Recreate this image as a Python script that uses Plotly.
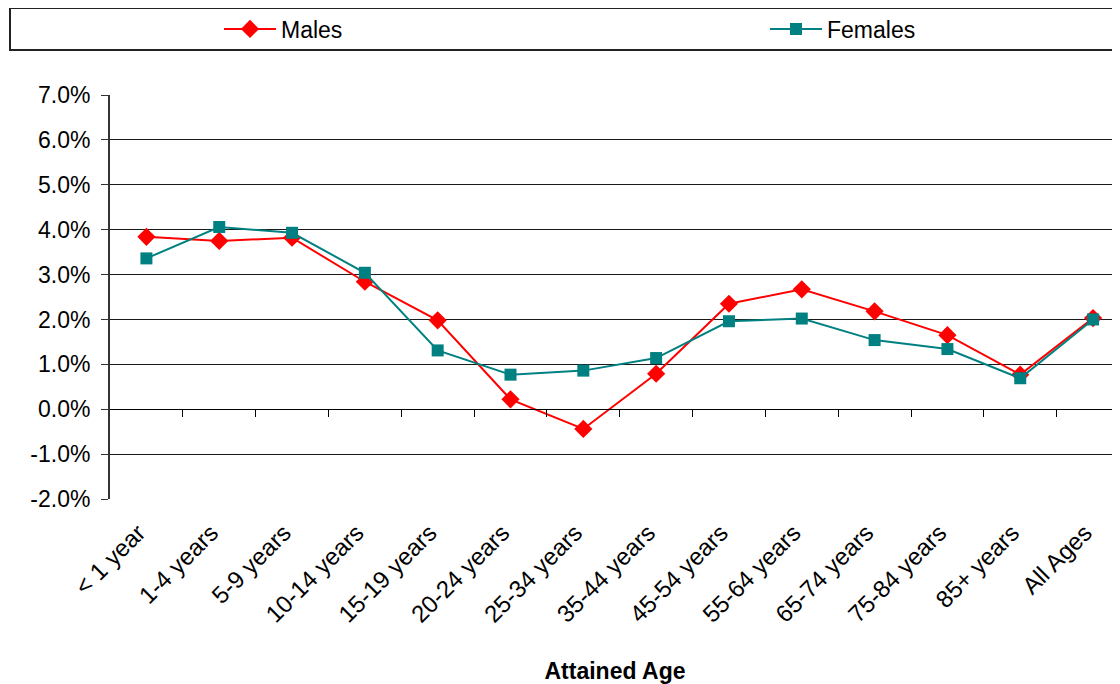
import plotly.graph_objects as go

categories = ["< 1 year", "1-4 years", "5-9 years", "10-14 years", "15-19 years",
              "20-24 years", "25-34 years", "35-44 years", "45-54 years", "55-64 years",
              "65-74 years", "75-84 years", "85+ years", "All Ages"]
males = [3.84, 3.75, 3.82, 2.84, 1.98, 0.22, -0.44, 0.79, 2.35, 2.67, 2.18, 1.65, 0.77, 2.03]
females = [3.36, 4.06, 3.93, 3.04, 1.31, 0.77, 0.86, 1.14, 1.96, 2.02, 1.54, 1.34, 0.69, 2.00]
y_ticks = [-2, -1, 0, 1, 2, 3, 4, 5, 6, 7]
y_ticktext = [f"{v:.1f}%" for v in y_ticks]

FONT = "Liberation Sans, Arial, sans-serif"
OFF = 8  # page body margin
W, H = 1120 - OFF, 684 - OFF
L, R, T, B = 110 - OFF, 0, 95 - OFF, H - (499 - OFF)
pw, ph = W - L - R, H - T - B
xr = [-0.5, 13.37]

def px_x(p):
    return (p - OFF - L) / pw

def px_y(p):
    return 1 + (T - (p - OFF)) / ph

fig = go.Figure()
fig.add_trace(go.Scatter(x=categories, y=males, name="Males", mode="lines+markers",
                         line=dict(color="#FF0000", width=2), legend="legend",
                         marker=dict(symbol="diamond", size=14, color="#FF0000")))
fig.add_trace(go.Scatter(x=categories, y=females, name="Females", mode="lines+markers",
                         line=dict(color="#008080", width=2), legend="legend2",
                         marker=dict(symbol="square", size=12, color="#008080")))
# helper trace so the zero-line category axis is rendered
fig.add_trace(go.Scatter(x=[None], y=[None], xaxis="x2", yaxis="y", showlegend=False,
                         hoverinfo="skip"))

leg_common = dict(orientation="h", yanchor="middle", y=px_y(29), xanchor="left",
                  font=dict(size=23), bgcolor="rgba(0,0,0,0)", itemwidth=52)

fig.update_layout(
    width=W, height=H,
    margin=dict(l=L, r=R, t=T, b=B, autoexpand=False),
    paper_bgcolor="white", plot_bgcolor="white",
    font=dict(family=FONT, size=21, color="black"),
    xaxis=dict(type="category", range=xr, showgrid=False, showline=False, ticks="",
               tickangle=-45, tickfont=dict(size=24), automargin=False,
               ticklabelstandoff=14, ticklabelshift=-8,
               title=dict(text="<b>Attained Age</b>", font=dict(size=23), standoff=50)),
    xaxis2=dict(overlaying="x", anchor="free", position=2 / 9, range=xr,
                showgrid=False, zeroline=False, showline=True, linecolor="black", linewidth=1,
                ticks="outside", ticklen=7, tickcolor="black",
                tickvals=[i + 0.5 for i in range(13)], showticklabels=False),
    yaxis=dict(range=[-2, 7], tickvals=y_ticks, ticktext=y_ticktext, automargin=False,
               showgrid=True, gridcolor="#1a1a1a", gridwidth=1, zeroline=False,
               showline=True, linecolor="#333333", linewidth=2, ticklabelstandoff=6,
               ticks="outside", ticklen=7, tickcolor="#333333", tickfont=dict(size=23)),
    legend=dict(x=px_x(219), **leg_common),
    legend2=dict(x=px_x(765), **leg_common),
    shapes=[dict(type="rect", xref="paper", yref="paper",
                 x0=px_x(10), x1=px_x(1118), y0=px_y(50), y1=px_y(8),
                 line=dict(color="#222222", width=2), fillcolor="rgba(0,0,0,0)", layer="below")],
)

fig.write_html("out.html")
